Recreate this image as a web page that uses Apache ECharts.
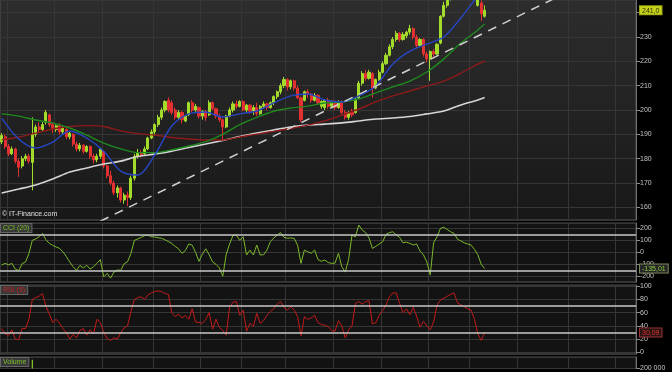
<!DOCTYPE html>
<html><head><meta charset="utf-8">
<script src="https://cdn.jsdelivr.net/npm/echarts@6/dist/echarts.min.js"></script>
<style>html,body{margin:0;padding:0;background:#000;}#c{width:672px;height:372px;}</style>
</head><body><div id="c"></div>
<script>
// ---------- DATA ----------
const totalSlots = 187; // daily slots on the time axis (incl. empty future area)
const openP = [187,189,185,182,184,179,177,180,181,178.5,
190,193,192,195,198,194,192,193.5,191,192,
189,190,186,184,185.5,183,185,181,179.5,181,
183,177,173,170,166,168,163,165,164,172,
181,182.5,182,184,188.5,191,194,197,200,204,
203,200,197,199,195.5,198,203,200,201,197.5,
199.5,198,203,200.5,197.5,196,193,197.5,200,202.5,
201.5,203.5,200,202,199.5,201,198.5,201.5,202.5,201,
203,205.5,207.5,210,212.5,209.5,212,209,205,204,
207.5,206.5,204,206,201.5,201,204,201.5,203.5,201,
203.5,199,197,199,199,205,211,215,213,215,
209,212.5,215.5,219,222.5,226,229,231.5,229,230.5,
232,233.5,230,226.5,229,223,221,224,223,227.5,
238.5,243,246,248,247,250,252,251,253,251.5,
243,244,238.5];
const closeP = [189.5,185,182,184,179,176.5,180,181,179,190,
193,192,194,199,194,192,193.5,191,192.5,189,
190.5,186,184,185.5,183,185,181,179.5,181,184,
177,173,170,166,168,163,165,164,172,181,
182.5,181.5,184,188.5,191,194,197,200,203.5,200,
199,197,199,196,197.5,203,200,201.5,197.5,199.5,
197,203,200.5,197.5,196,193,197.5,200,202.5,201.5,
203.5,200,202,199.5,201,198.5,201.5,202.5,201,203,
205.5,207.5,210,212.5,209.5,212,209,205,196,207.5,
206.5,204,206,203,203.5,204,201.5,203.5,201,203.5,
199,197,199,198,204.5,211,215,213,215.5,209,
212.5,215.5,219,222.5,226,229,231.5,229,231,232,
233.5,230,226.5,229,223,221,224,223,227,238.5,
243,246,248,247,250,252,251,253,251.5,248,
246,239.5,241];
const lowP = [186,184,181,181.5,178,172.5,176,179,178,167,
189,191,191,194,193,190.5,191,190,190,188,
188,185,183,183,182,182.5,180,178,178.5,180,
176,172,169,165,164,162,161.5,160.5,163,171,
180,180.5,181.5,183.5,188,189.5,193,196,199,199,
198,196,196,194.5,195,197.5,199,199,196.5,196,
195.5,197.5,200,196.5,195,188,192.5,197,199,200.5,
201,199.5,199,198.5,198,197.5,198,200.5,200,200.5,
202,204.5,206.5,209,208,208.5,208,204.5,195,203.5,
205,203,203.5,202,200.5,200,200.5,201,200,200.5,
198,196,196,197,198.5,204.5,210,212,212.5,205,
208.5,212,215,218.5,222,225,228,228,228.5,229.5,
231,229,225.5,226,222,219.5,212,221,222.5,227,
238,242,245,246,246.5,249,249.5,250,250,246.5,
242.5,236.6,238];
const highP = [190.5,190,186,185,184.5,180,181,182,182,197,
194,195,195,200,198.5,195,194,194.5,193.5,192.5,
191,190.5,187,186.5,186,185.5,185.5,182,182,184.5,
183.5,177.5,175,171,169,168.5,166,166.5,173,182,
184,183.5,185,189,192,194.5,198,201,204,205.2,
204,201,200,199.5,198,203.5,204,202.5,201.5,200,
200,204,203.5,201,198.5,196.5,198,201,203.5,204,
204,204,202.5,202.5,202,203,202,203.5,203,203.5,
206,208,211,213.6,213,212.5,212.5,210,205.5,208,
208.5,207,207,206.5,204,204.5,205,204,204,204,
204,200,199.5,200.5,205,212,216,216.5,216.5,215.5,
213,216.5,220,223.5,227,230,232.5,232,232,232.5,
235,234,231,229.5,229.5,224,224.5,225,227.5,239,
244.5,247.5,249.5,250,251.5,253.5,254,254,254.5,252,
247,245,243];
// volume, in thousands of shares
const volumeK = [120,135,110,128,142,150,118,95,102,277,
160,130,115,140,125,118,98,105,112,96,
101,128,134,110,99,92,140,126,118,132,
150,165,172,160,148,158,140,152,170,185,
150,122,118,130,126,119,140,132,128,145,
136,120,108,122,110,130,118,104,115,98,
112,124,109,118,121,160,140,118,104,99,
110,95,102,93,88,105,97,91,99,108,
116,121,130,126,118,110,115,125,180,150,
110,105,98,102,109,95,91,99,94,100,
112,126,105,99,130,148,140,115,108,135,
118,112,125,130,128,122,119,110,106,102,
115,108,125,118,130,128,165,120,112,140,
170,150,138,126,132,129,120,115,118,124,
130,150,122];
// moving averages read at every 5th session
const maIdx = [0,5,10,15,20,25,30,35,40,45,50,55,60,65,70,75,80,85,90,95,100,105,110,115,120,125,130,135,140,142];
const ma20 = [196.7,188.1,184.4,186.8,191.4,188.5,183.1,174.9,173.3,181.5,193.4,198.4,199.2,197.1,198.4,199.6,202.9,205.8,206.6,204.1,203.3,205.8,209.9,218.9,224.2,227.1,230.0,237.8,246.9,249.4];
const ma50 = [198.4,197.5,195.9,194.7,192.6,189.7,186.4,184.0,182.5,182.5,183.6,185.2,187.0,190.0,194.0,197.0,199.5,200.8,201.6,202.9,203.3,204.5,207.0,209.5,211.9,215.6,221.0,227.5,232.9,235.3];
const ma100 = [187.7,188.9,190.5,192.2,193.2,193.6,193.2,191.4,190.3,189.7,188.7,188.1,187.7,187.7,188.9,190.1,191.2,192.4,193.8,195.5,197.9,200.4,203.3,205.8,207.8,209.9,211.9,215.2,218.9,220.1];
const ma200 = [165.9,167.5,169.2,171.6,174.5,176.2,177.8,179.0,180.9,181.9,183.1,184.6,186.0,187.5,189.1,190.5,191.8,193.0,193.8,194.2,194.7,195.5,196.3,196.7,197.3,198.4,199.6,202.1,204.1,205.1];
const trendIdx = [29, 162];
const trendVal = [154.3, 245.5];
const cci = [-106,-92,-104,-92,-140,-153,-95,-80,-10,100,
112,130,158,105,75,58,45,33,5,-35,
-80,-120,-150,-110,-130,-108,-140,-120,-92,-60,
-205,-175,-215,-165,-147,-150,-95,-78,-10,100,
112,125,140,144,130,128,122,117,105,90,
75,50,30,-8,15,70,60,0,-75,-15,
30,-20,-80,-100,-130,-200,-20,70,140,144,
100,130,-22,19,-22,61,-22,-20,19,90,
120,144,165,125,118,120,117,60,-92,19,
5,-8,19,-60,-75,-64,-85,-92,-90,-8,
-120,-165,-60,144,130,228,186,165,120,33,
50,70,88,150,165,172,145,125,80,85,
75,61,70,10,-20,-80,-189,80,130,200,
210,190,172,158,110,95,80,70,61,25,
-20,-100,-135.01];
const rsi = [36,28,26,34,20,19,36,36,50,80,
83,85,89,70,58,45,50,44,36,30,
20,27,22,33,36,26,34,28,50,45,
30,21,18,22,20,30,37,40,62,80,
83,84,80,87,90,92,93,92,89,88,
60,54,58,52,56,50,66,46,45,44,
50,60,35,50,38,33,26,68,76,77,
56,64,32,44,39,59,44,48,56,62,
66,73,77,68,64,69,64,54,25,54,
50,52,56,45,42,41,39,33,32,48,
40,22,34,40,74,77,73,77,78,43,
45,56,63,72,84,90,90,74,60,66,
57,68,55,38,47,40,34,46,72,79,
82,85,88,90,75,72,69,66,64,50,
28,18,30.09];
const cciLevels = [150, -150];
const rsiLevels = [70, 30];
const dateGridIdx = [2,16,30,45,59,71,84,98,112,126,138,152,167,181];
const priceTicks = [160,170,180,190,200,210,220,230,240];
const cciTicks = [200,100,0,-100,-200];
const rsiTicks = [100,80,60,40,20,0];
const volTicks = [200];

// ---------- BUILD ----------
const cats = Array.from({length: totalSlots}, (_, i) => 'J' + (i + 1));
const candles = openP.map((o, i) => [o, closeP[i], lowP[i], highP[i]]);
const pairs = arr => arr.map((v, k) => [maIdx[k], v]);
const seq = arr => arr.map((v, i) => [i, v]);
const UP = '#a4dc2c', DOWN = '#e33030';
const FONT = 'Liberation Sans';
const gridBorder = '#555';
const splitCol = '#363636';

function xAxisFor(g) {
  return {
    type: 'category', gridIndex: g, data: cats, boundaryGap: true,
    axisLine: {show: false}, axisTick: {show: false}, axisLabel: {show: false},
    splitLine: {show: true, interval: (idx) => dateGridIdx.includes(idx), lineStyle: {color: splitCol, width: 1}}
  };
}
function yAxisFor(g, min, max, splitNumber, ticks, fmt) {
  return {
    type: 'value', gridIndex: g, position: 'right', min, max, splitNumber, scale: true,
    axisLine: {show: true, lineStyle: {color: '#707070'}},
    axisTick: {show: true, length: 4, lineStyle: {color: '#8a8a8a'}},
    axisLabel: {
      color: '#c4c4c4', fontSize: 7, fontFamily: FONT, margin: 4,
      showMinLabel: false, showMaxLabel: false,
      formatter: v => ticks.includes(Math.round(v * 1000) / 1000) ? (fmt ? fmt(v) : String(v)) : ''
    },
    splitLine: {show: true, lineStyle: {color: splitCol, width: 1}}
  };
}

const chart = echarts.init(document.getElementById('c'), null, {renderer: 'canvas'});
const mainBg = {type: 'linear', x: 0, y: 0, x2: 0, y2: 1,
  colorStops: [{offset: 0, color: '#2d2d2d'}, {offset: 1, color: '#181818'}]};

const volAxis = yAxisFor(3, 200, 300, 1, volTicks, v => v + ' 000');
volAxis.interval = 100;
volAxis.axisLabel.showMinLabel = true;

chart.setOption({
  animation: false,
  backgroundColor: '#000',
  grid: [
    {left: 0, top: 0, width: 636, height: 220, show: true, backgroundColor: mainBg, borderColor: gridBorder, borderWidth: 1},
    {left: 0, top: 223, width: 636, height: 59, show: true, backgroundColor: '#131313', borderColor: gridBorder, borderWidth: 1},
    {left: 0, top: 285, width: 636, height: 69, show: true, backgroundColor: '#131313', borderColor: gridBorder, borderWidth: 1},
    {left: 0, top: 357, width: 636, height: 15, show: true, backgroundColor: '#121212', borderColor: gridBorder, borderWidth: 1}
  ],
  xAxis: [xAxisFor(0), xAxisFor(1), xAxisFor(2), xAxisFor(3)],
  yAxis: [
    yAxisFor(0, 154.8, 245.2, 9, priceTicks),
    yAxisFor(1, -247.5, 245, 5, cciTicks),
    yAxisFor(2, -2.6, 102, 5, rsiTicks),
    volAxis
  ],
  series: [
    {type: 'candlestick', xAxisIndex: 0, yAxisIndex: 0, data: candles, barWidth: 2.6, clip: true,
      itemStyle: {color: UP, color0: DOWN, borderColor: UP, borderColor0: DOWN, borderWidth: 1}},
    {type: 'line', xAxisIndex: 0, yAxisIndex: 0, data: pairs(ma200), symbol: 'none', smooth: 0.3, clip: true,
      lineStyle: {color: '#d6d6d6', width: 1.6}},
    {type: 'line', xAxisIndex: 0, yAxisIndex: 0, data: pairs(ma100), symbol: 'none', smooth: 0.3, clip: true,
      lineStyle: {color: '#8e1a1a', width: 1.4}},
    {type: 'line', xAxisIndex: 0, yAxisIndex: 0, data: pairs(ma50), symbol: 'none', smooth: 0.3, clip: true,
      lineStyle: {color: '#1f8a1f', width: 1.4}},
    {type: 'line', xAxisIndex: 0, yAxisIndex: 0, data: pairs(ma20), symbol: 'none', smooth: 0.3, clip: true,
      lineStyle: {color: '#2646c4', width: 1.4}},
    {type: 'line', xAxisIndex: 0, yAxisIndex: 0, data: trendIdx.map((x, k) => [x, trendVal[k]]), symbol: 'none', clip: true,
      lineStyle: {color: '#d0d0d0', width: 1.5, type: [9, 7]}},
    {type: 'line', xAxisIndex: 1, yAxisIndex: 1, data: seq(cci), symbol: 'none', clip: true,
      lineStyle: {color: '#7cb82a', width: 1},
      markLine: {silent: true, symbol: 'none', label: {show: false},
        lineStyle: {color: '#c8c8c8', width: 1.5, type: 'solid'}, data: cciLevels.map(v => ({yAxis: v}))}},
    {type: 'line', xAxisIndex: 2, yAxisIndex: 2, data: seq(rsi), symbol: 'none', clip: true,
      lineStyle: {color: '#c21a1a', width: 1},
      markLine: {silent: true, symbol: 'none', label: {show: false},
        lineStyle: {color: '#c8c8c8', width: 1.5, type: 'solid'}, data: rsiLevels.map(v => ({yAxis: v}))}},
    {type: 'bar', xAxisIndex: 3, yAxisIndex: 3, data: volumeK, barWidth: 1.2, clip: true,
      itemStyle: {color: p => closeP[p.dataIndex] >= openP[p.dataIndex] ? '#8fd12a' : '#d02a2a'}}
  ]
});

// value tags and panel titles
const last = closeP.length - 1;
const yPrice = chart.convertToPixel({yAxisIndex: 0}, closeP[last]);
const yCci = chart.convertToPixel({yAxisIndex: 1}, cci[last]);
const yRsi = chart.convertToPixel({yAxisIndex: 2}, rsi[last]);
const fmtC = (v, d) => v.toFixed(d).replace('.', ',');
function tag(text, y, fill, bg, border) {
  return {type: 'text', left: 639, top: y - 5, z: 100,
    style: {text, fill, backgroundColor: bg, borderColor: border, borderWidth: 1, padding: [1, 2, 0, 2],
      font: '7px "' + FONT + '"'}};
}
function title(text, top, fill) {
  return {type: 'text', left: 0, top, z: 100,
    style: {text, fill, backgroundColor: '#383838', borderColor: '#666', borderWidth: 1, padding: [1, 2, 0, 2],
      font: '7px "' + FONT + '"'}};
}
chart.setOption({
  graphic: [
    tag(fmtC(closeP[last], 1), yPrice, '#2e3000', '#c4d21c', '#9aa510'),
    tag(fmtC(cci[last], 2), yCci, '#8fd040', '#262626', '#7a8a5a'),
    tag(fmtC(rsi[last], 2), yRsi, '#e03030', '#2a1414', '#9a3030'),
    title('CCI (20)', 223, '#7cc02a'),
    title('RSI (5)', 285, '#c82020'),
    title('Volume', 357, '#7cc02a'),
    {type: 'text', left: 2, top: 211, z: 100, style: {text: '© IT-Finance.com', fill: '#e0e0e0', font: '7px "' + FONT + '"'}}
  ]
});
</script>
</body></html>
